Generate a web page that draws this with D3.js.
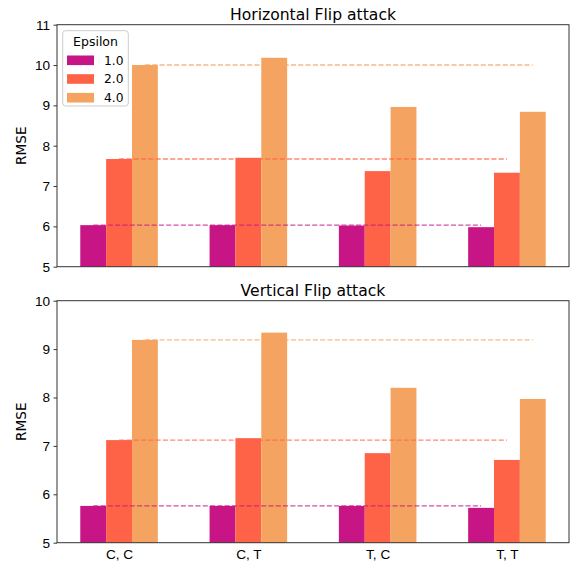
<!DOCTYPE html>
<html>
<head>
<meta charset="utf-8">
<script src="https://cdn.jsdelivr.net/npm/d3@7"></script>
<style>
  body { margin: 0; background: #fff; }
  svg { font-family: "DejaVu Sans", sans-serif; }
  .tick text { font-size: 13.6px; fill: #000; }
  .tick line { stroke: #000; stroke-width: 0.8; }
  .domain { display: none; }
</style>
</head>
<body>
<svg id="chart" width="574" height="561"></svg>
<script>
// data
var categories = ["C, C", "C, T", "T, C", "T, T"];
var epsilons = ["1.0", "2.0", "4.0"];
var colors = ["#C71585", "#FF6347", "#F4A460"];

var hflipEps1 = [6.03, 6.03, 6.02, 5.98];
var hflipEps2 = [7.67, 7.70, 7.37, 7.33];
var hflipEps4 = [10.00, 10.18, 8.96, 8.84];

var vflipEps1 = [5.76, 5.76, 5.76, 5.72];
var vflipEps2 = [7.12, 7.16, 6.85, 6.71];
var vflipEps4 = [9.19, 9.34, 8.20, 7.97];

var hTicks = [5, 6, 7, 8, 9, 10, 11];
var vTicks = [5, 6, 7, 8, 9, 10];

var svg = d3.select("#chart");

var left = 57, right = 569;
var barW = 0.2;

// matplotlib style x axis: groups at 0..3, bars offset by -0.2, 0, 0.2
var x = d3.scaleLinear()
    .domain([-0.48, 3.48])
    .range([left, right]);

function panel(opts) {
    var y = d3.scaleLinear()
        .domain(opts.domain)
        .range([opts.bottom, opts.top]);

    var g = svg.append("g");
    var series = opts.series;

    // bars
    series.forEach(function(vals, k) {
        g.selectAll(null)
            .data(vals)
            .enter()
            .append("rect")
            .attr("x", function(d, i) { return x(i + (k - 1) * barW - barW / 2); })
            .attr("width", function() { return x(barW) - x(0); })
            .attr("y", function(d) { return y(d); })
            .attr("height", function(d) { return y(opts.domain[0]) - y(d); })
            .style("fill", colors[k]);
    });

    // dashed reference lines at the first group's value
    series.forEach(function(vals, k) {
        var off = (k - 1) * barW;
        g.append("line")
            .attr("x1", x(0 + off))
            .attr("x2", x(categories.length - 1 + off))
            .attr("y1", y(vals[0]))
            .attr("y2", y(vals[0]))
            .style("stroke", colors[k])
            .style("stroke-width", 1.4)
            .style("stroke-dasharray", "5.1,2.2")
            .style("opacity", 0.75);
    });

    // axes
    g.append("g")
        .attr("transform", "translate(" + left + ",0)")
        .call(d3.axisLeft(y).tickValues(opts.ticks).tickFormat(d3.format("d")).tickSize(3.5).tickPadding(3.5));

    if (opts.showX) {
        g.append("g")
            .attr("transform", "translate(0," + opts.bottom + ")")
            .call(d3.axisBottom(x).tickValues(d3.range(categories.length))
                .tickFormat(function(d) { return categories[d]; })
                .tickSize(0).tickPadding(7));
    }

    // frame
    g.append("rect")
        .attr("x", left)
        .attr("y", opts.top)
        .attr("width", right - left)
        .attr("height", opts.bottom - opts.top)
        .style("fill", "none")
        .style("stroke", "#333")
        .style("stroke-width", 1);

    g.append("text")
        .attr("x", (left + right) / 2)
        .attr("y", opts.top - 5)
        .attr("text-anchor", "middle")
        .style("font-size", "15.6px")
        .text(opts.title);

    g.append("text")
        .attr("transform", "translate(26," + (opts.top + opts.bottom) / 2 + ") rotate(-90)")
        .attr("text-anchor", "middle")
        .style("font-size", "13.6px")
        .text("RMSE");

    return g;
}

panel({
    title: "Horizontal Flip attack",
    domain: [5, 11], ticks: hTicks,
    top: 24.7, bottom: 266.7,
    series: [hflipEps1, hflipEps2, hflipEps4],
    showX: false
});

panel({
    title: "Vertical Flip attack",
    domain: [5, 10], ticks: vTicks,
    top: 300.7, bottom: 542.7,
    series: [vflipEps1, vflipEps2, vflipEps4],
    showX: true
});

// legend
var li = { x: 62.7, y: 30.7, w: 65.6, h: 75.3 };
var leg = svg.append("g");
leg.append("rect")
    .attr("x", li.x)
    .attr("y", li.y)
    .attr("width", li.w)
    .attr("height", li.h)
    .attr("rx", 3)
    .style("fill", "#fff")
    .style("fill-opacity", 0.8)
    .style("stroke", "#ccc")
    .style("stroke-width", 1);

leg.append("text")
    .attr("x", li.x + li.w / 2)
    .attr("y", 46)
    .attr("text-anchor", "middle")
    .style("font-size", "12.5px")
    .text("Epsilon");

var items = leg.selectAll("g.item")
    .data(epsilons)
    .enter()
    .append("g")
    .attr("transform", function(d, i) { return "translate(0," + (i * 18.7) + ")"; });

items.append("rect")
    .attr("x", 67)
    .attr("y", 55.5)
    .attr("width", 27)
    .attr("height", 9.6)
    .style("fill", function(d, i) { return colors[i]; });

items.append("text")
    .attr("x", 104)
    .attr("y", 64.8)
    .style("font-size", "12.3px")
    .text(function(d) { return d; });
</script>
</body>
</html>
